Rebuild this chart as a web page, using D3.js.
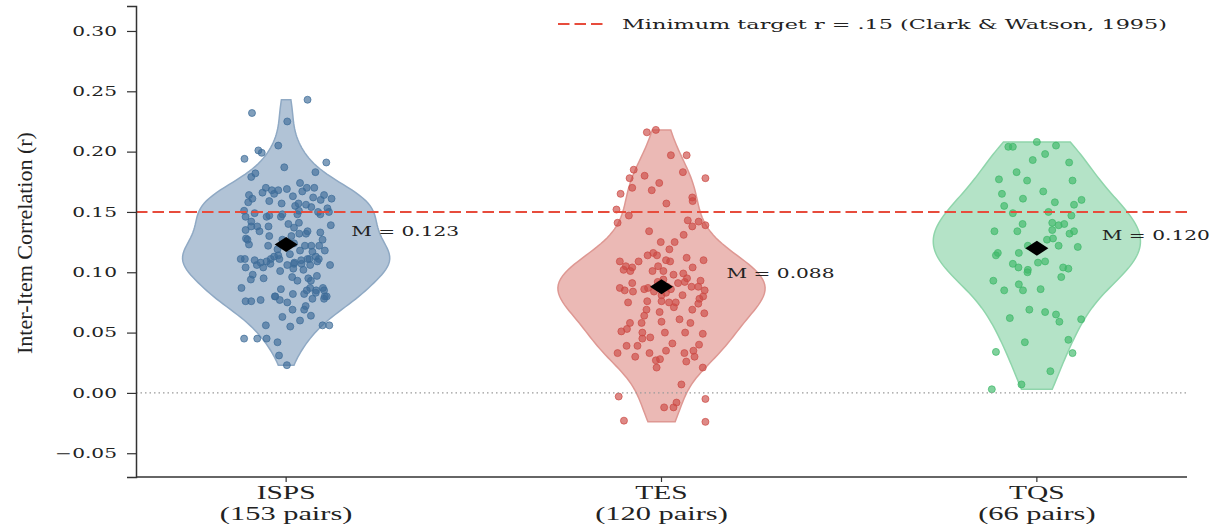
<!DOCTYPE html>
<html>
<head>
<meta charset="utf-8">
<script src="https://cdn.jsdelivr.net/npm/d3@7"></script>
<style>
  body { margin: 0; background: #fff; }
  svg { display: block; }
</style>
</head>
<body>
<div id="chart"></div>
<script>
// inter-item correlations per scale, violin + jittered points

const categories = ["ISPS", "TES", "TQS"];
const pairCounts = [153, 120, 66];
const means = [0.123, 0.088, 0.120];
const yTicks = [-0.05, 0.00, 0.05, 0.10, 0.15, 0.20, 0.25, 0.30];
const targetR = 0.15;
const legendText = "Minimum target r = .15 (Clark & Watson, 1995)";

// [horizontal jitter (category units), r]
const ispsPoints = [
  [0.057,0.243],[-0.091,0.232],[0.003,0.225],[-0.021,0.205],[-0.074,0.201],[-0.065,0.199],[-0.111,0.194],[0.107,0.191],[-0.005,0.187],[0.078,0.183],
  [-0.082,0.182],[-0.093,0.179],[0.037,0.174],[-0.054,0.170],[-0.038,0.168],[-0.021,0.168],[0.002,0.169],[0.055,0.170],[0.075,0.170],[-0.063,0.166],
  [-0.032,0.165],[0.018,0.163],[0.043,0.167],[-0.099,0.164],[0.072,0.162],[0.101,0.164],[0.121,0.161],[-0.090,0.161],[-0.101,0.158],[-0.045,0.159],
  [-0.012,0.157],[0.033,0.157],[0.092,0.160],[0.024,0.155],[0.067,0.154],[0.110,0.153],[-0.112,0.151],[-0.084,0.149],[-0.010,0.148],[0.034,0.151],
  [0.091,0.148],[0.114,0.150],[-0.108,0.146],[-0.052,0.146],[-0.014,0.146],[0.030,0.148],[-0.093,0.142],[0.006,0.140],[0.034,0.141],[0.119,0.139],
  [-0.108,0.135],[-0.071,0.134],[-0.047,0.138],[-0.093,0.138],[0.021,0.137],[0.057,0.134],[0.091,0.133],[-0.045,0.130],[0.035,0.132],[-0.103,0.127],
  [0.097,0.127],[-0.099,0.123],[-0.048,0.122],[0.021,0.124],[0.050,0.122],[0.088,0.122],[-0.023,0.119],[0.037,0.118],[0.070,0.117],[0.103,0.118],
  [-0.121,0.111],[-0.110,0.111],[-0.084,0.110],[-0.068,0.108],[-0.052,0.109],[-0.041,0.111],[-0.032,0.113],[-0.018,0.111],[0.057,0.111],[0.079,0.113],
  [0.083,0.109],[-0.078,0.106],[-0.061,0.104],[0.003,0.106],[0.021,0.107],[0.041,0.107],[0.064,0.106],[0.117,0.106],[-0.108,0.104],[0.019,0.103],
  [0.046,0.102],[-0.016,0.101],[-0.089,0.098],[-0.094,0.094],[0.016,0.096],[0.059,0.095],[0.082,0.097],[0.066,0.093],[-0.119,0.087],[-0.014,0.086],
  [0.018,0.082],[0.048,0.082],[0.064,0.087],[0.079,0.083],[0.101,0.085],[0.108,0.080],[-0.030,0.080],[-0.017,0.077],[0.070,0.078],[0.101,0.078],
  [-0.108,0.076],[-0.093,0.076],[-0.068,0.077],[0.003,0.075],[0.052,0.072],[0.048,0.069],[0.017,0.069],[0.066,0.064],[-0.010,0.063],[0.037,0.060],
  [0.011,0.055],[0.097,0.056],[0.115,0.056],[-0.054,0.056],[-0.112,0.045],[-0.077,0.045],[-0.052,0.045],[-0.023,0.042],[-0.019,0.031],[0.002,0.023],
  [0.053,0.156],[-0.077,0.138],[-0.107,0.128],[0.053,0.132],[0.067,0.122],[-0.042,0.107],[0.087,0.111],[0.080,0.085],[0.055,0.085],[0.098,0.087],
  [0.103,0.080],[0.040,0.110],[0.022,0.108],[-0.029,0.080],[-0.045,0.147],[0.062,0.111],[-0.010,0.127],[0.014,0.130],[-0.021,0.114],[0.030,0.093],
  [-0.060,0.095],[0.085,0.150],[0.010,0.115]
];

const tesPoints = [
  [-0.039,0.216],[-0.015,0.218],[0.025,0.197],[0.067,0.197],[-0.074,0.185],[0.057,0.183],[-0.085,0.178],[-0.045,0.180],[0.117,0.178],[-0.006,0.174],
  [-0.078,0.170],[-0.026,0.168],[-0.109,0.165],[0.082,0.162],[0.083,0.159],[0.013,0.157],[-0.120,0.152],[-0.087,0.147],[-0.117,0.141],[0.070,0.143],
  [0.099,0.142],[0.082,0.138],[0.117,0.139],[-0.033,0.134],[0.059,0.131],[-0.002,0.125],[0.035,0.125],[0.021,0.119],[-0.037,0.114],[-0.022,0.116],
  [-0.012,0.114],[0.067,0.112],[0.012,0.110],[0.023,0.109],[0.112,0.110],[-0.111,0.109],[-0.061,0.109],[-0.095,0.105],[-0.078,0.104],[-0.101,0.102],
  [-0.083,0.101],[-0.009,0.105],[-0.024,0.101],[0.005,0.101],[0.083,0.104],[0.032,0.098],[0.058,0.099],[-0.078,0.091],[-0.111,0.087],[-0.098,0.085],
  [-0.076,0.084],[-0.046,0.086],[-0.036,0.087],[0.044,0.091],[0.062,0.092],[0.068,0.095],[0.104,0.093],[0.080,0.088],[0.098,0.088],[0.115,0.085],
  [0.056,0.081],[0.111,0.080],[0.101,0.078],[0.000,0.081],[-0.038,0.076],[0.000,0.076],[0.020,0.075],[0.038,0.075],[0.033,0.071],[-0.089,0.075],
  [0.098,0.074],[0.082,0.069],[-0.040,0.069],[-0.046,0.064],[-0.005,0.067],[0.114,0.066],[0.048,0.061],[-0.084,0.058],[-0.053,0.058],[0.000,0.059],
  [0.077,0.058],[-0.107,0.051],[-0.092,0.053],[-0.051,0.050],[0.009,0.050],[0.063,0.050],[0.110,0.049],[-0.051,0.045],[-0.030,0.046],[-0.093,0.039],
  [-0.064,0.039],[0.029,0.041],[0.100,0.040],[-0.117,0.033],[-0.070,0.030],[-0.032,0.033],[0.012,0.035],[0.061,0.033],[0.085,0.035],[0.088,0.030],
  [-0.015,0.027],[-0.004,0.028],[0.066,0.026],[-0.013,0.021],[0.110,0.021],[0.053,0.007],[-0.114,-0.003],[0.117,-0.005],[0.040,-0.008],[0.007,-0.012],
  [0.032,-0.012],[-0.100,-0.023],[0.117,-0.024],
  [-0.010,0.092],[0.015,0.088],[-0.020,0.084],[0.005,0.094],[0.025,0.086],[-0.005,0.090],[0.012,0.083]
];

const tqsPoints = [
  [-0.076,0.204],[-0.064,0.204],[0.000,0.208],[0.051,0.205],[0.022,0.198],[-0.011,0.193],[0.086,0.191],[-0.054,0.183],[-0.101,0.177],[-0.026,0.176],
  [0.095,0.176],[0.017,0.167],[-0.093,0.165],[-0.037,0.161],[0.048,0.158],[0.119,0.160],[0.099,0.156],[-0.087,0.155],[-0.064,0.149],[0.031,0.150],
  [0.092,0.147],[-0.038,0.140],[0.041,0.141],[0.058,0.139],[0.073,0.140],[-0.113,0.134],[-0.052,0.134],[0.041,0.135],[0.087,0.132],[0.099,0.134],
  [0.027,0.127],[0.043,0.128],[0.058,0.122],[0.109,0.121],[-0.104,0.116],[-0.109,0.114],[-0.048,0.116],[-0.064,0.107],[-0.049,0.104],[-0.024,0.102],
  [-0.025,0.100],[0.003,0.108],[0.022,0.109],[0.070,0.104],[0.084,0.103],[0.065,0.096],[-0.116,0.093],[-0.048,0.090],[-0.087,0.085],[-0.037,0.085],
  [0.010,0.086],[-0.020,0.069],[0.022,0.067],[0.051,0.065],[0.060,0.059],[-0.072,0.062],[0.118,0.061],[-0.032,0.042],[0.084,0.044],[-0.109,0.034],
  [0.095,0.033],[0.036,0.018],[-0.041,0.007],[-0.120,0.003],[-0.024,0.122],[0.000,0.120]
];

const allPoints = [ispsPoints, tesPoints, tqsPoints];

const fillColors  = ["#b1c3d6", "#ebb9b5", "#b4e3c7"];
const edgeColors  = ["#8fa9c4", "#de9893", "#8fd5ab"];
const pointColors = ["#3d6c98", "#cc4a45", "#3db868"];

const width = 1216, height = 524;
const margin = {top: 6, right: 29, bottom: 47, left: 136};
const STRETCH = 1.55;   // the reference text is drawn wide

const svg = d3.select("#chart")
  .append("svg")
  .attr("width", width)
  .attr("height", height);

const x = d3.scaleLinear()
  .domain([-0.4, 2.4])
  .range([margin.left, width - margin.right]);

const y = d3.scaleLinear()
  .domain([-0.0697, 0.3207])
  .range([height - margin.bottom, margin.top]);

// widen text horizontally like the reference
function stretch(sel, k) {
  sel.each(function () {
    const w = this.getComputedTextLength();
    d3.select(this).attr("textLength", w * k).attr("lengthAdjust", "spacingAndGlyphs");
  });
}

// gaussian kde, scott bandwidth, evaluated between min and max (like matplotlib)
function violinProfile(vals) {
  const n = vals.length;
  const sd = d3.deviation(vals);
  const bw = sd * Math.pow(n, -1 / 5);
  const [lo, hi] = d3.extent(vals);
  const steps = 100;
  const out = [];
  for (let i = 0; i <= steps; i++) {
    const t = lo + (hi - lo) * i / steps;
    let s = 0;
    for (const v of vals) {
      const z = (t - v) / bw;
      s += Math.exp(-0.5 * z * z);
    }
    out.push([t, s]);
  }
  const mx = d3.max(out, d => d[1]);
  return out.map(d => [d[0], d[1] / mx]);
}

const halfWidth = 0.276;

const area = d3.area()
  .curve(d3.curveLinear)
  .y(d => y(d.v))
  .x0(d => x(d.c - d.w))
  .x1(d => x(d.c + d.w));

const violins = svg.append("g");
allPoints.forEach((pts, i) => {
  const prof = violinProfile(pts.map(p => p[1]))
    .map(d => ({v: d[0], w: d[1] * halfWidth, c: i}));
  violins.append("path")
    .datum(prof)
    .attr("d", area)
    .attr("fill", fillColors[i])
    .attr("stroke", edgeColors[i])
    .attr("stroke-width", 1.5);
});

// jittered points
allPoints.forEach((pts, i) => {
  svg.append("g")
    .selectAll("circle")
    .data(pts)
    .join("circle")
    .attr("cx", d => x(i + d[0]))
    .attr("cy", d => y(d[1]))
    .attr("r", 3.5)
    .attr("fill", pointColors[i])
    .attr("fill-opacity", 0.65)
    .attr("stroke", pointColors[i])
    .attr("stroke-opacity", 0.7)
    .attr("stroke-width", 1);
});

// zero line
svg.append("line")
  .attr("x1", x(-0.4)).attr("x2", x(2.4))
  .attr("y1", y(0)).attr("y2", y(0))
  .attr("stroke", "#9a9a9a")
  .attr("stroke-width", 1.2)
  .attr("stroke-dasharray", "1.5,3");

// target line
svg.append("line")
  .attr("x1", x(-0.4)).attr("x2", x(2.4))
  .attr("y1", y(targetR)).attr("y2", y(targetR))
  .attr("stroke", "#e74c3c")
  .attr("stroke-width", 2)
  .attr("stroke-dasharray", "11.5,5");

// mean diamonds + labels
const diamond = "M0,-7.5L11.5,0L0,7.5L-11.5,0Z";
means.forEach((m, i) => {
  svg.append("path")
    .attr("d", diamond)
    .attr("transform", `translate(${x(i)},${y(m)})`)
    .attr("fill", "#000");
  svg.append("text")
    .attr("x", x(i) + 65)
    .attr("y", y(m) - 13)
    .attr("dy", "0.35em")
    .attr("font-family", "DejaVu Serif")
    .attr("font-size", 13)
    .attr("fill", "#222")
    .text(`M = ${m.toFixed(3)}`)
    .call(stretch, STRETCH);
});

// y axis
const yAxis = svg.append("g")
  .attr("transform", `translate(${margin.left},0)`)
  .call(d3.axisLeft(y).tickValues(yTicks).tickSize(9).tickPadding(10).tickFormat(d3.format(".2f")));
yAxis.select(".domain").attr("stroke", "#333").attr("stroke-width", 1.5);
yAxis.selectAll(".tick line").attr("stroke", "#333").attr("stroke-width", 1.2);
yAxis.selectAll(".tick text")
  .attr("font-family", "DejaVu Serif")
  .attr("font-size", 13)
  .attr("fill", "#222")
  .call(stretch, STRETCH);

// x axis
const xAxis = svg.append("g")
  .attr("transform", `translate(0,${height - margin.bottom})`);
xAxis.append("line")
  .attr("x1", x(-0.4)).attr("x2", x(2.4))
  .attr("stroke", "#333").attr("stroke-width", 1.5);
categories.forEach((c, i) => {
  xAxis.append("line")
    .attr("x1", x(i)).attr("x2", x(i))
    .attr("y1", 0).attr("y2", 5)
    .attr("stroke", "#333").attr("stroke-width", 1.2);
  const t = xAxis.append("g")
    .attr("font-family", "Liberation Serif")
    .attr("font-size", 19)
    .attr("fill", "#222")
    .attr("text-anchor", "middle");
  t.append("text").attr("x", x(i)).attr("y", 22).text(c).call(stretch, 1.55);
  t.append("text").attr("x", x(i)).attr("y", 43).text(`(${pairCounts[i]} pairs)`).call(stretch, 1.6);
});

// y title
svg.append("text")
  .attr("transform", `translate(24,${(136 + 350) / 2}) rotate(-90)`)
  .attr("text-anchor", "middle")
  .attr("dy", "0.35em")
  .attr("font-family", "Liberation Serif")
  .attr("font-size", 22)
  .attr("fill", "#222")
  .text("Inter-Item Correlation (r)");

// legend
const legend = svg.append("g").attr("transform", "translate(558,24)");
legend.append("line")
  .attr("x1", 0).attr("x2", 47)
  .attr("stroke", "#e74c3c")
  .attr("stroke-width", 2)
  .attr("stroke-dasharray", "11.5,5");
legend.append("text")
  .attr("x", 64)
  .attr("dy", "0.35em")
  .attr("font-family", "DejaVu Serif")
  .attr("font-size", 13.5)
  .attr("fill", "#222")
  .attr("textLength", 545)
  .attr("lengthAdjust", "spacingAndGlyphs")
  .text(legendText);
</script>
</body>
</html>
